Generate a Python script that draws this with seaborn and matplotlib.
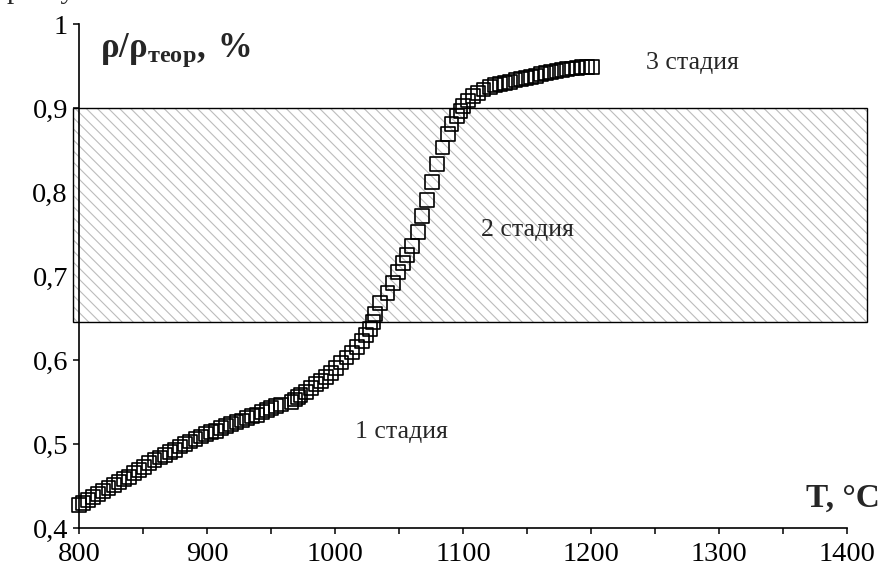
import matplotlib
matplotlib.use("Agg")
import matplotlib.pyplot as plt
import seaborn as sns
import pandas as pd
from matplotlib.patches import Rectangle

# temperature, °C
temp = [800, 803, 807, 811, 815, 819, 823, 827, 831, 835, 839, 843, 847, 851, 855,
        859, 863, 867, 871, 875, 879, 883, 887, 891, 895, 899, 903, 907, 911, 915,
        919, 923, 927, 931, 935, 939, 943, 947, 950, 954, 958, 966, 969, 971, 973,
        977, 981, 985, 989, 993, 997, 1001, 1005, 1009, 1013, 1017, 1021, 1024, 1027,
        1030, 1031, 1035, 1041, 1045, 1049, 1053, 1056, 1060, 1065, 1068, 1072, 1076,
        1080, 1084, 1088, 1091, 1095, 1098, 1100, 1104, 1108, 1112, 1116, 1121, 1125,
        1129, 1133, 1137, 1141, 1145, 1149, 1153, 1157, 1161, 1165, 1169, 1173, 1177,
        1181, 1185, 1189, 1193, 1197, 1201]
# relative density rho/rho_theor
density = [0.427, 0.430, 0.433, 0.437, 0.440, 0.444, 0.448, 0.451, 0.455, 0.458,
           0.461, 0.465, 0.469, 0.473, 0.477, 0.481, 0.484, 0.487, 0.490, 0.493,
           0.497, 0.500, 0.503, 0.506, 0.509, 0.512, 0.514, 0.516, 0.519, 0.521,
           0.524, 0.526, 0.528, 0.531, 0.533, 0.535, 0.538, 0.541, 0.543, 0.545,
           0.547, 0.550, 0.553, 0.556, 0.558, 0.562, 0.567, 0.571, 0.575, 0.580,
           0.585, 0.591, 0.597, 0.603, 0.609, 0.616, 0.623, 0.630, 0.637, 0.645,
           0.655, 0.668, 0.680, 0.692, 0.705, 0.716, 0.725, 0.736, 0.752, 0.771,
           0.790, 0.812, 0.833, 0.853, 0.869, 0.881, 0.890, 0.896, 0.902, 0.909,
           0.914, 0.918, 0.922, 0.925, 0.927, 0.929, 0.930, 0.931, 0.933, 0.934,
           0.936, 0.937, 0.938, 0.940, 0.942, 0.943, 0.944, 0.945, 0.946, 0.947,
           0.948, 0.949, 0.949, 0.949]

x_ticks = [800, 900, 1000, 1100, 1200, 1300, 1400]
y_ticks = [0.4, 0.5, 0.6, 0.7, 0.8, 0.9, 1.0]
y_labels = ["0,4", "0,5", "0,6", "0,7", "0,8", "0,9", "1"]

# stage 2 band
band_x = (795, 1416)
band_y = (0.645, 0.9)

stages = ["1 стадия", "2 стадия", "3 стадия"]
stage_x = [1052, 1150, 1279]
stage_y = [0.514, 0.755, 0.954]

df = pd.DataFrame({"T": temp, "rho": density})

sns.set_theme(style="ticks")
plt.rcParams["font.family"] = ["Liberation Serif", "DejaVu Serif"]
plt.rcParams["mathtext.fontset"] = "custom"
plt.rcParams["mathtext.rm"] = "Liberation Serif"
plt.rcParams["mathtext.bf"] = "Liberation Serif:bold"
plt.rcParams["hatch.color"] = "#bcbcbc"
plt.rcParams["hatch.linewidth"] = 0.8

fig = plt.figure(figsize=(8.81, 5.77), dpi=100)
ax = fig.add_axes([0.0897, 0.0849, 0.8717, 0.8735])

# hatched band (drawn a bit past the axes range, like the original)
ax.add_patch(Rectangle((band_x[0], band_y[0]), band_x[1] - band_x[0], band_y[1] - band_y[0],
                       facecolor="white", edgecolor="#bcbcbc", hatch="\\\\\\",
                       linewidth=0, clip_on=False, zorder=1))
ax.add_patch(Rectangle((band_x[0], band_y[0]), band_x[1] - band_x[0], band_y[1] - band_y[0],
                       facecolor="none", edgecolor="black", linewidth=1.0,
                       clip_on=False, zorder=2))

sns.scatterplot(data=df, x="T", y="rho", marker="s", s=100, facecolor="none",
                edgecolor="black", linewidth=1.2, ax=ax, zorder=3, clip_on=False)

ax.set_xlim(800, 1400)
ax.set_ylim(0.4, 1.0)
ax.set_xticks(x_ticks)
ax.set_xticks([850, 950, 1050, 1150, 1250, 1350], minor=True)
ax.set_yticks(y_ticks)
ax.set_yticklabels(y_labels)
ax.tick_params(axis="both", which="both", direction="out", length=4, width=1.1,
               color="black", labelsize=20.5, labelcolor="black")
ax.tick_params(axis="x", pad=6)
ax.tick_params(axis="y", pad=4)
for side in ["top", "right"]:
    ax.spines[side].set_visible(False)
for side in ["left", "bottom"]:
    ax.spines[side].set_color("black")
    ax.spines[side].set_linewidth(1.2)
ax.set_xlabel("")
ax.set_ylabel("")

# axis titles inside the plot
ax.text(816, 0.969, r"$\mathbf{ρ/ρ_{теор},\,\%}$", fontsize=25, ha="left", va="center")
ax.text(1426, 0.436, "T, °C", fontsize=24, fontweight="bold", ha="right", va="center")

for label, sx, sy in zip(stages, stage_x, stage_y):
    ax.text(sx, sy, label, fontsize=18.5, ha="center", va="center", zorder=4)

# cut-off caption line at the very top of the page
fig.text(0.008, 1 + 2 / 577, "рнату", fontsize=21, va="baseline", ha="left")

fig.savefig("out.png", dpi=100)
